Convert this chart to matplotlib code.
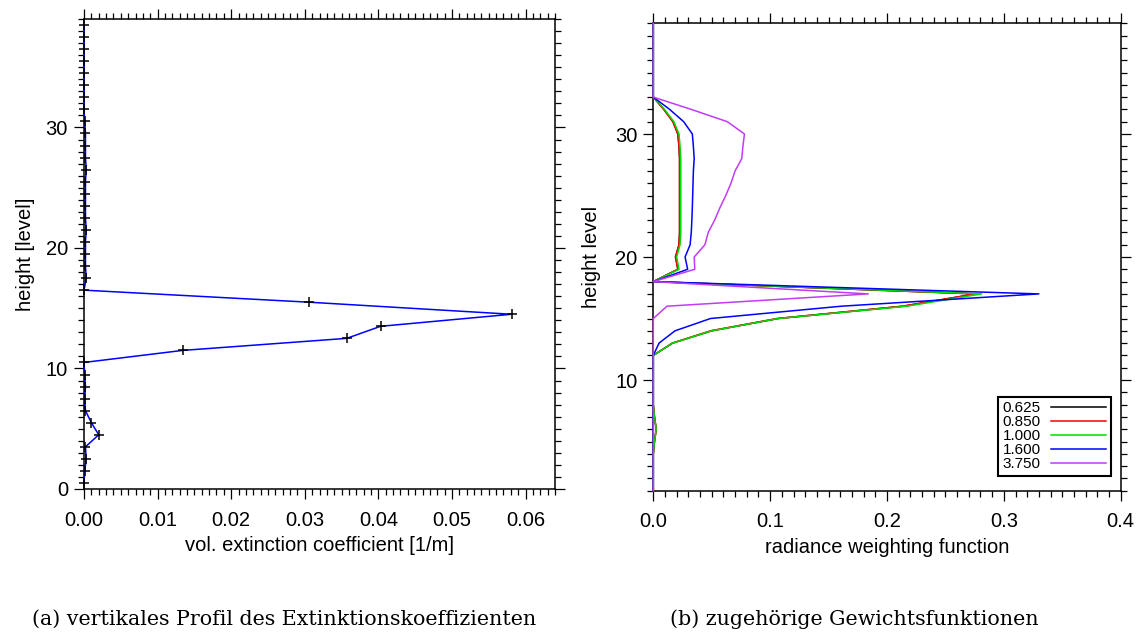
import numpy as np
import matplotlib
matplotlib.use("Agg")
import matplotlib.pyplot as plt
from matplotlib.ticker import MultipleLocator, FormatStrFormatter
from matplotlib.lines import Line2D

plt.rcParams['font.family'] = ['Liberation Sans', 'DejaVu Sans']

# extinction profile, one value per layer (layer centres at n + 0.5)
layer_mid = np.arange(39) + 0.5
extinction = [0.0000, 0.0001, 0.0003, 0.0002, 0.0020, 0.0010, 0.0002, 0.0001,
              0.0002, 0.0001, 0.0000, 0.0134, 0.0357, 0.0403, 0.0581, 0.0306,
              0.0000,
              0.0003, 0.0002, 0.0002, 0.0002, 0.0003, 0.0002, 0.0002, 0.0002,
              0.0002, 0.0003, 0.0002, 0.0002, 0.0002, 0.0001,
              0.0, 0.0, 0.0, 0.0, 0.0, 0.0, 0.0, 0.0]

# weighting functions on levels 1..39
levels = np.arange(1, 40)
wavelengths = ["0.625", "0.850", "1.000", "1.600", "3.750"]
w_0625 = [0, 0, 0, 0, 0.0010, 0.0025, 0.0010, 0, 0, 0, 0,
          0, 0.0165, 0.050, 0.107, 0.214, 0.276, 0,
          0.021, 0.019, 0.022, 0.0225, 0.0225, 0.0225, 0.0225, 0.0225, 0.0225,
          0.0225, 0.022, 0.021, 0.0168, 0.0090, 0,
          0, 0, 0, 0, 0, 0]
w_0850 = [0, 0, 0, 0, 0.0010, 0.0025, 0.0010, 0, 0, 0, 0,
          0, 0.0163, 0.049, 0.106, 0.213, 0.276, 0,
          0.021, 0.019, 0.022, 0.0225, 0.0225, 0.0225, 0.0225, 0.0225, 0.0225,
          0.0225, 0.022, 0.021, 0.0168, 0.0090, 0,
          0, 0, 0, 0, 0, 0]
w_1000 = [0, 0, 0, 0, 0.0010, 0.0025, 0.0010, 0, 0, 0, 0,
          0, 0.0165, 0.050, 0.107, 0.217, 0.281, 0,
          0.022, 0.020, 0.0229, 0.0235, 0.0235, 0.0235, 0.0235, 0.0235, 0.0235,
          0.0235, 0.0229, 0.022, 0.0176, 0.0096, 0,
          0, 0, 0, 0, 0, 0]
w_1600 = [0, 0, 0, 0, 0, 0, 0, 0, 0, 0, 0,
          0, 0.0049, 0.0186, 0.049, 0.161, 0.330, 0,
          0.0294, 0.0272, 0.0315, 0.0325, 0.0330, 0.0334, 0.0337, 0.0340, 0.0343,
          0.0350, 0.0343, 0.0334, 0.026, 0.014, 0,
          0, 0, 0, 0, 0, 0]
w_3750 = [0, 0, 0, 0, 0, 0, 0, 0, 0, 0, 0,
          0, 0, 0, 0, 0.0117, 0.184, 0,
          0.0355, 0.035, 0.0442, 0.047, 0.0525, 0.057, 0.062, 0.0665, 0.070,
          0.0757, 0.0767, 0.078, 0.0634, 0.0325, 0,
          0, 0, 0, 0, 0, 0]
weights = [w_0625, w_0850, w_1000, w_1600, w_3750]
colors = ["black", "#ff0000", "#00dd00", "#0000ff", "#c03cf5"]

W, H = 1145, 635
fig = plt.figure(figsize=(W / 100, H / 100), dpi=100)
ax1 = fig.add_axes([84 / W, 1 - 489 / H, 471 / W, 470 / H])
ax2 = fig.add_axes([653.3 / W, 1 - 490.7 / H, 467.4 / W, 467.4 / H])


def style_axes(ax):
    for sp in ax.spines.values():
        sp.set_linewidth(1.1)
    ax.tick_params(which='both', direction='out', top=True, right=True,
                   width=0.9, labelsize=14.5)
    ax.tick_params(which='major', length=7.5)
    ax.tick_params(which='minor', length=4)
    ax.tick_params(axis='x', pad=8)
    ax.tick_params(axis='y', pad=4)


# (a) extinction coefficient
ax1.plot(extinction, layer_mid, color="#0000ff", lw=1.1, zorder=3, clip_on=False)
ax1.plot(extinction, layer_mid, ls="none", marker="+", ms=6.5, mew=1.1,
         color="black", zorder=4, clip_on=False)
ax1.set_xlim(0, 0.064)
ax1.set_ylim(0, 39)
ax1.xaxis.set_major_locator(MultipleLocator(0.01))
ax1.xaxis.set_minor_locator(MultipleLocator(0.001))
ax1.xaxis.set_major_formatter(FormatStrFormatter('%.2f'))
ax1.yaxis.set_major_locator(MultipleLocator(10))
ax1.yaxis.set_minor_locator(MultipleLocator(1))
style_axes(ax1)
ax1.set_xlabel("vol. extinction coefficient [1/m]", fontsize=14.5, labelpad=5)
ax1.set_ylabel("height [level]", fontsize=14.5, labelpad=8)

# (b) weighting functions
for lab, w, c in zip(wavelengths, weights, colors):
    ax2.plot(w, levels, color=c, lw=1.1, label=lab, zorder=3, clip_on=False)
ax2.set_xlim(0, 0.4)
ax2.set_ylim(1, 39)
ax2.xaxis.set_major_locator(MultipleLocator(0.1))
ax2.xaxis.set_minor_locator(MultipleLocator(0.01))
ax2.xaxis.set_major_formatter(FormatStrFormatter('%.1f'))
ax2.yaxis.set_major_locator(MultipleLocator(10))
ax2.yaxis.set_minor_locator(MultipleLocator(1))
style_axes(ax2)
ax2.set_xlabel("radiance weighting function", fontsize=14.5, labelpad=5)
ax2.set_ylabel("height level", fontsize=14.5, labelpad=10)

handles = [Line2D([], [], color=c, lw=1.1) for c in colors]
leg = ax2.legend(handles, wavelengths, loc="lower right",
                 bbox_to_anchor=(0.979, 0.0315), borderaxespad=0,
                 markerfirst=False, fancybox=False, framealpha=1,
                 edgecolor="black", fontsize=11, handlelength=3.6,
                 handletextpad=0.7, labelspacing=0.0, borderpad=0.3)
leg.get_frame().set_linewidth(1.5)
leg.set_zorder(5)

# sub-captions
serif = ["DejaVu Serif"]
fig.text(284 / W, 1 - 619 / H, "(a) vertikales Profil des Extinktionskoeffizienten",
         ha="center", va="center", family=serif, fontsize=14.9)
fig.text(854 / W, 1 - 619 / H, "(b) zugehörige Gewichtsfunktionen",
         ha="center", va="center", family=serif, fontsize=14.9)

fig.savefig("out.png", dpi=100)
